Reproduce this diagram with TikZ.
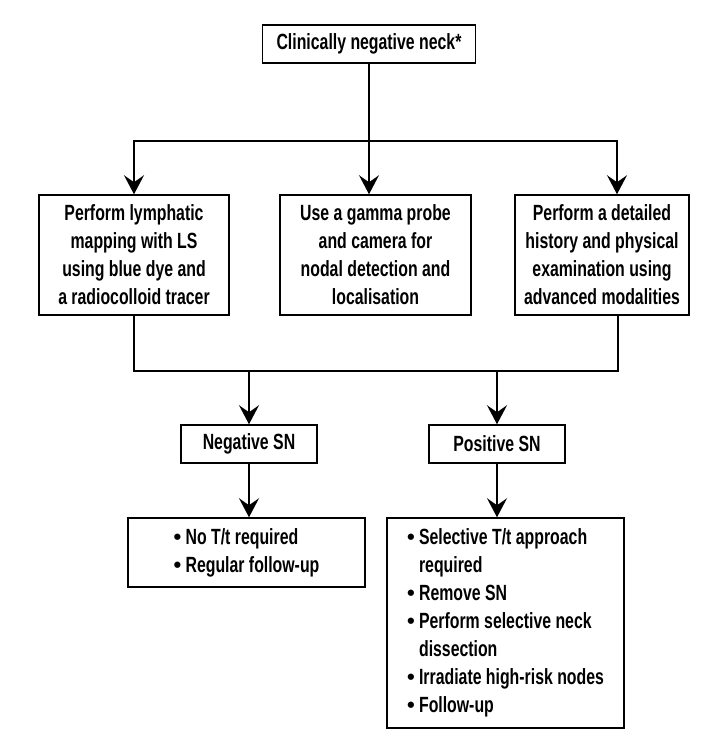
\documentclass[tikz,border=0pt]{standalone}
\usepackage{fontspec}
\setmainfont{Liberation Sans}[FakeStretch=0.72]
\newfontfamily\dotfont{Liberation Sans}
\usetikzlibrary{arrows.meta}
\newcommand{\blt}{\makebox[12pt][l]{\dotfont\textbullet}}
\newcommand{\bsp}{\hspace*{12pt}}
\tikzset{
	box/.style={draw, line width=1.5pt, align=center, inner sep=0pt},
	arr/.style={-{Stealth[length=19pt,width=20pt,inset=7pt]}, line width=1.5pt},
	link/.style={line width=1.5pt}
}

\begin{document}
\begin{tikzpicture}[x=1pt, y=-1pt, font=\fontsize{22}{28}\selectfont\bfseries]
			%%%%% START %%%%%
			\useasboundingbox (0, 0) rectangle (717, 753);
			
			\node[box, minimum width=213pt, minimum height=38pt] (neck) at (369, 44) {Clinically negative neck*};
			
			\node[box, minimum width=190pt, minimum height=120pt] (lymph) at (134, 255) {Perform lymphatic\\mapping with LS\\using blue dye and\\a radiocolloid tracer};
			\node[box, minimum width=191pt, minimum height=120pt] (gamma) at (375.5, 255) {Use a gamma probe\\and camera for\\nodal detection and\\localisation};
			\node[box, minimum width=174pt, minimum height=120pt] (exam) at (602, 255) {Perform a detailed\\history and physical\\examination using\\advanced modalities};
			
			\node[box, minimum width=136pt, minimum height=38pt] (neg) at (249, 444) {Negative SN};
			\node[box, minimum width=136pt, minimum height=38pt] (pos) at (497, 444) {Positive SN};
			
			\node[box, align=left, minimum width=237pt, minimum height=69pt] (negitems) at (246.5, 552.5) {\blt No T/t required\\\blt Regular follow-up};
			\node[box, align=left, minimum width=237pt, minimum height=210pt] (positems) at (505.5, 623) {\blt Selective T/t approach\\\bsp required\\\blt Remove SN\\\blt Perform selective neck\\\bsp dissection\\\blt Irradiate high-risk nodes\\\blt Follow-up};
			
			\coordinate (split) at (369, 141);
			\coordinate (join) at (0, 371);
			\coordinate (examin) at ([xshift=15pt]exam.north);
			\coordinate (examout) at ([xshift=16pt]exam.south);
			
			\draw[link] (neck.south) -- (split);
			\draw[arr] (split) -| (lymph.north);
			\draw[arr] (split) -- (split |- gamma.north);
			\draw[arr] (split) -| (examin);
			
			\draw[link] (lymph.south) |- (join -| examout) -- (examout);
			\draw[arr] (join -| neg.north) -- (neg.north);
			\draw[arr] (join -| pos.north) -- (pos.north);
			
			\draw[arr] (neg.south) -- (neg.south |- negitems.north);
			\draw[arr] (pos.south) -- (pos.south |- positems.north);
			%%%%% END %%%%%
\end{tikzpicture}
\end{document}
